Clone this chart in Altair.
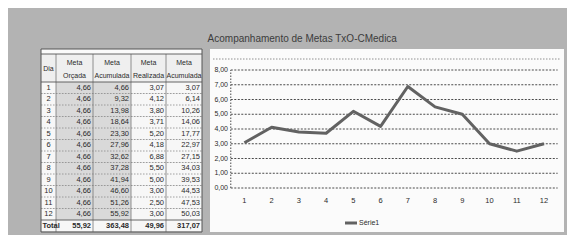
import altair as alt
import pandas as pd

# ---------------- data ----------------
title_text = "Acompanhamento de Metas TxO-CMedica"
dias = list(range(1, 13))
meta_orcada = [4.66] * 12
meta_acumulada = [4.66, 9.32, 13.98, 18.64, 23.30, 27.96, 32.62, 37.28, 41.94, 46.60, 51.26, 55.92]
meta_realizada = [3.07, 4.12, 3.80, 3.71, 5.20, 4.18, 6.88, 5.50, 5.00, 3.00, 2.50, 3.00]
realizada_acumulada = [3.07, 6.14, 10.26, 14.06, 17.77, 22.97, 27.15, 34.03, 39.53, 44.53, 47.53, 50.03]
totais = [55.92, 363.48, 49.96, 317.07]
header_dia = "Dia"
header_top = ["Meta", "Meta", "Meta", "Meta"]
header_bottom = ["Orçada", "Acumulada", "Realizada", "Acumulada"]
total_label = "Total"
y_ticks = [0, 1, 2, 3, 4, 5, 6, 7, 8]
serie_name = "Série1"

# ---------------- layout (not data) ----------------
FONT = "Liberation Sans"
TW, TH = 161, 183
col_edges = [0, 15, 52, 90, 125, 161]
HDR_TOP, HDR_BOT, ROW_H = 5, 33, 11.5
data_fills = ["#f7f7f7", "#d9d9d9", "#d9d9d9", "#f7f7f7", "#f7f7f7"]
TEXT_C = "#2b2b2b"
LINE_C = "#626262"


def fmt(v):
    return f"{v:.2f}".replace(".", ",")


xs = alt.Scale(domain=[0, TW], nice=False, zero=False)
ys = alt.Scale(domain=[0, TH], nice=False, zero=False, reverse=True)

# cell backgrounds
rects = [dict(x0=0, x1=TW, y0=0, y1=HDR_TOP, fill="#fafafa")]
for j in range(5):
    rects.append(dict(x0=col_edges[j], x1=col_edges[j + 1], y0=HDR_TOP, y1=HDR_BOT, fill="#efefef"))
for i in range(13):
    y0 = HDR_BOT + i * ROW_H
    for j in range(5):
        fill = "#f7f7f7" if i == 12 else data_fills[j]
        rects.append(dict(x0=col_edges[j], x1=col_edges[j + 1], y0=y0, y1=y0 + ROW_H, fill=fill))
rect_df = pd.DataFrame(rects)

base_rect = alt.Chart(rect_df).mark_rect().encode(
    x=alt.X("x0:Q", scale=xs, axis=None),
    x2="x1",
    y=alt.Y("y0:Q", scale=ys, axis=None),
    y2="y1",
    color=alt.Color("fill:N", scale=None, legend=None),
)

vline_df = pd.DataFrame(dict(x=col_edges[1:-1], y0=[HDR_TOP] * 4, y1=[TH] * 4))
vlines = alt.Chart(vline_df).mark_rule(color="#777", strokeWidth=0.8).encode(
    x=alt.X("x:Q", scale=xs, axis=None),
    y=alt.Y("y0:Q", scale=ys, axis=None),
    y2="y1",
)

hsolid_df = pd.DataFrame(dict(y=[HDR_TOP, HDR_BOT, HDR_BOT + 12 * ROW_H], x0=[0] * 3, x1=[TW] * 3))
hsolid = alt.Chart(hsolid_df).mark_rule(color="#555", strokeWidth=0.9).encode(
    y=alt.Y("y:Q", scale=ys, axis=None),
    x=alt.X("x0:Q", scale=xs, axis=None),
    x2="x1",
)

hdot_df = pd.DataFrame(dict(y=[HDR_BOT + i * ROW_H for i in range(1, 12)], x0=[0] * 11, x1=[TW] * 11))
hdot = alt.Chart(hdot_df).mark_rule(color="#8a8a8a", strokeWidth=0.8, strokeDash=[1.5, 1.5]).encode(
    y=alt.Y("y:Q", scale=ys, axis=None),
    x=alt.X("x0:Q", scale=xs, axis=None),
    x2="x1",
)

border_df = pd.DataFrame(dict(x0=[0], x1=[TW], y0=[0], y1=[TH]))
border = alt.Chart(border_df).mark_rect(filled=False, stroke="#555", strokeWidth=1).encode(
    x=alt.X("x0:Q", scale=xs, axis=None),
    x2="x1",
    y=alt.Y("y0:Q", scale=ys, axis=None),
    y2="y1",
)

centers = [(col_edges[j] + col_edges[j + 1]) / 2 for j in range(1, 5)]
hdr_df = pd.DataFrame(
    dict(
        x=[(col_edges[0] + col_edges[1]) / 2] + centers + centers,
        y=[20] + [14] * 4 + [27] * 4,
        t=[header_dia] + header_top + header_bottom,
    )
)
hdr_text = alt.Chart(hdr_df).mark_text(
    font=FONT, fontSize=7, color=TEXT_C, align="center", baseline="middle"
).encode(x=alt.X("x:Q", scale=xs, axis=None), y=alt.Y("y:Q", scale=ys, axis=None), text="t:N")

row_centers = [HDR_BOT + i * ROW_H + ROW_H / 2 for i in range(12)]
dia_df = pd.DataFrame(dict(x=[(col_edges[0] + col_edges[1]) / 2] * 12, y=row_centers, t=[str(d) for d in dias]))
dia_text = alt.Chart(dia_df).mark_text(
    font=FONT, fontSize=7.5, color=TEXT_C, align="center", baseline="middle"
).encode(x=alt.X("x:Q", scale=xs, axis=None), y=alt.Y("y:Q", scale=ys, axis=None), text="t:N")

num_rows = []
for j, col in enumerate([meta_orcada, meta_acumulada, meta_realizada, realizada_acumulada]):
    for i, v in enumerate(col):
        num_rows.append(dict(x=col_edges[j + 2] - 2, y=row_centers[i], t=fmt(v)))
num_df = pd.DataFrame(num_rows)
num_text = alt.Chart(num_df).mark_text(
    font=FONT, fontSize=7.5, color=TEXT_C, align="right", baseline="middle"
).encode(x=alt.X("x:Q", scale=xs, axis=None), y=alt.Y("y:Q", scale=ys, axis=None), text="t:N")

total_y = HDR_BOT + 12 * ROW_H + ROW_H / 2
tot_df = pd.DataFrame(dict(x=[col_edges[j + 2] - 2 for j in range(4)], y=[total_y] * 4, t=[fmt(v) for v in totais]))
tot_text = alt.Chart(tot_df).mark_text(
    font=FONT, fontSize=7.5, fontWeight="bold", color=TEXT_C, align="right", baseline="middle"
).encode(x=alt.X("x:Q", scale=xs, axis=None), y=alt.Y("y:Q", scale=ys, axis=None), text="t:N")

totlab_df = pd.DataFrame(dict(x=[1.5], y=[total_y], t=[total_label]))
totlab_text = alt.Chart(totlab_df).mark_text(
    font=FONT, fontSize=7.5, fontWeight="bold", color=TEXT_C, align="left", baseline="middle"
).encode(x=alt.X("x:Q", scale=xs, axis=None), y=alt.Y("y:Q", scale=ys, axis=None), text="t:N")

table = alt.layer(
    base_rect, hdot, vlines, hsolid, border, hdr_text, dia_text, num_text, tot_text, totlab_text
).properties(width=TW, height=TH)

# ---------------- line chart panel ----------------
PW, PH = 354, 183
cx = alt.Scale(domain=[-0.263, 12.734], nice=False, zero=False)
cy = alt.Scale(domain=[-2.983, 9.424], nice=False, zero=False)

grid_df = pd.DataFrame(
    dict(
        v=y_ticks,
        x0=[0.5] * len(y_ticks),
        x1=[12.5] * len(y_ticks),
        lab=[fmt(v) for v in y_ticks],
    )
)
grid = alt.Chart(grid_df).mark_rule(color="#4a4a4a", strokeWidth=1, strokeDash=[2, 1.5]).encode(
    y=alt.Y("v:Q", scale=cy, axis=None),
    x=alt.X("x0:Q", scale=cx, axis=None),
    x2="x1",
)

# y tick labels, positioned by the y scale
y_labels = alt.Chart(grid_df).mark_text(
    font=FONT, fontSize=7, color=TEXT_C, align="right", baseline="middle"
).encode(
    y=alt.Y("v:Q", scale=cy, axis=None),
    x=alt.value(18),
    text="lab:N",
)

# x tick labels, positioned by the x scale
xlab_df = pd.DataFrame(dict(dia=dias, lab=[str(d) for d in dias]))
x_labels = alt.Chart(xlab_df).mark_text(
    font=FONT, fontSize=7.5, color=TEXT_C, align="center", baseline="middle"
).encode(
    x=alt.X("dia:Q", scale=cx, axis=None),
    y=alt.value(152),
    text="lab:N",
)

yline_df = pd.DataFrame(dict(x=[0.5], y0=[min(y_ticks)], y1=[max(y_ticks)]))
yline = alt.Chart(yline_df).mark_rule(color="#4a4a4a", strokeWidth=1, strokeDash=[1.5, 1.5]).encode(
    x=alt.X("x:Q", scale=cx, axis=None),
    y=alt.Y("y0:Q", scale=cy, axis=None),
    y2="y1",
)

top_rule = alt.Chart(pd.DataFrame({"a": [0]})).mark_rule(
    color="#777", strokeWidth=0.8, strokeDash=[1.5, 1.5]
).encode(x=alt.value(3), x2=alt.value(PW - 3), y=alt.value(10))

line_df = pd.DataFrame(dict(dia=dias, val=meta_realizada, serie=[serie_name] * 12))
line = alt.Chart(line_df).mark_line(strokeWidth=3, strokeJoin="round", color=LINE_C).encode(
    x=alt.X("dia:Q", scale=cx, axis=None),
    y=alt.Y("val:Q", scale=cy, axis=None),
)

# legend entry (series name)
leg_df = pd.DataFrame(dict(serie=[serie_name]))
leg_sym = alt.Chart(leg_df).mark_rule(color=LINE_C, strokeWidth=3).encode(
    x=alt.value(135), x2=alt.value(147), y=alt.value(174)
)
leg_txt = alt.Chart(leg_df).mark_text(
    font=FONT, fontSize=7, color=TEXT_C, align="left", baseline="middle"
).encode(x=alt.value(149), y=alt.value(174), text="serie:N")

panel = alt.layer(top_rule, grid, yline, line, y_labels, x_labels, leg_sym, leg_txt).properties(
    width=PW, height=PH, view=alt.ViewBackground(fill="#fbfbfb", stroke=None)
)

chart = (
    alt.hconcat(table, panel, spacing=8, bounds="flush")
    .properties(
        title=alt.TitleParams(
            text=title_text,
            anchor="middle",
            font=FONT,
            fontSize=10,
            fontWeight="normal",
            color="#3c3c3c",
            offset=5,
        ),
        background="#b3b3b3",
        padding={"left": 32, "top": 25, "right": 3, "bottom": 2},
    )
    .configure_view(stroke=None)
)

chart.save("out.html", embed_options={"renderer": "svg", "actions": False})
